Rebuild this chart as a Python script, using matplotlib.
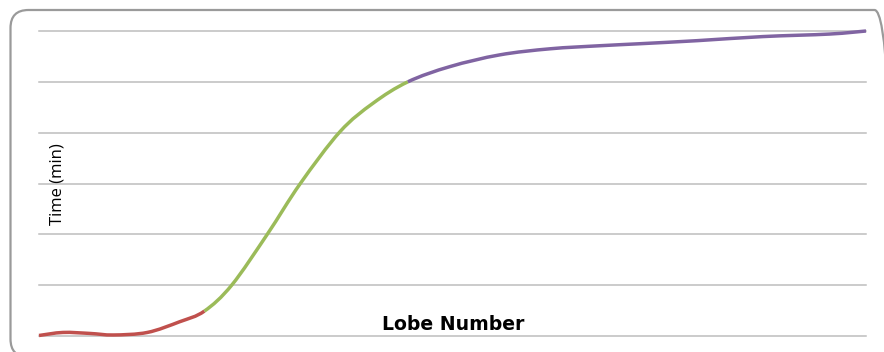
import matplotlib
matplotlib.use("Agg")
import matplotlib.pyplot as plt
import numpy as np
from matplotlib.path import Path
from matplotlib.patches import PathPatch, FancyBboxPatch

# Lobe number (relative position along the axis) and elapsed time, in three phases
red_x = [0.0, 2.9, 6.2, 9.0, 13.1, 17.0, 20.0]
red_y = [0.01, 0.07, 0.05, 0.02, 0.07, 0.28, 0.49]
green_x = [20.0, 23.3, 27.6, 31.6, 36.4, 40.4, 44.6]
green_y = [0.49, 1.00, 2.00, 3.00, 4.02, 4.58, 5.00]
purple_x = [44.6, 49.7, 55.7, 61.8, 67.8, 72.7, 79.6, 87.5, 95.6, 100.0]
purple_y = [5.00, 5.30, 5.53, 5.65, 5.71, 5.75, 5.81, 5.89, 5.94, 6.00]

series = [
    (red_x, red_y, "#c0504d"),
    (green_x, green_y, "#9bbb59"),
    (purple_x, purple_y, "#8064a2"),
]

W, H, DPI = 884, 352, 100
fig = plt.figure(figsize=(W / DPI, H / DPI), dpi=DPI)
fig.patch.set_facecolor("white")

# background layer in pixel units for the rounded chart-area frame
bg = fig.add_axes([0, 0, 1, 1], zorder=0)
bg.set_xlim(0, W)
bg.set_ylim(0, H)
bg.axis("off")
frame = FancyBboxPatch((10.5, -5.0), 882.0, 347.0,
                       boxstyle="round,pad=0,rounding_size=18",
                       facecolor="none", edgecolor="#9a9a9a", linewidth=1.6,
                       clip_on=False)
bg.add_patch(frame)

ax = fig.add_axes([39 / W, 16 / H, 827 / W, 305 / H], zorder=1)
ax.set_xlim(0, 100)
ax.set_ylim(0, 6)
ax.patch.set_alpha(0)
for s in ax.spines.values():
    s.set_visible(False)
ax.set_xticks([])
ax.set_yticks([])
for g in range(0, 7):
    ax.axhline(g, color="#bdbdbd", linewidth=1.1, zorder=1, clip_on=False)

# smooth curve through all points (cardinal Bezier, like a smoothed line chart)
all_x, all_y, seg_bounds = [], [], []
for xs, ys, col in series:
    start = len(all_x) - 1 if all_x else 0
    if all_x:
        xs, ys = xs[1:], ys[1:]
    all_x.extend(xs)
    all_y.extend(ys)
    seg_bounds.append((start, len(all_x) - 1, col))

P = np.column_stack([all_x, all_y])
n = len(P)


def ctrl(i):
    p0 = P[max(i - 1, 0)]
    p1 = P[i]
    p2 = P[i + 1]
    p3 = P[min(i + 2, n - 1)]
    c1 = p1 + (p2 - p0) / 6.0
    c2 = p2 - (p3 - p1) / 6.0
    return c1, c2


for a, b, col in seg_bounds:
    verts = [P[a]]
    codes = [Path.MOVETO]
    for i in range(a, b):
        c1, c2 = ctrl(i)
        verts += [c1, c2, P[i + 1]]
        codes += [Path.CURVE4] * 3
    patch = PathPatch(Path(verts, codes), facecolor="none", edgecolor=col,
                      linewidth=2.5, capstyle="butt", zorder=3, clip_on=False)
    ax.add_patch(patch)

fig.text(57 / W, 1 - 184 / H, "Time (min)", rotation=90, ha="center",
         va="center", fontsize=12, family="Open Sans", color="black",
         zorder=4)
fig.text(453 / W, 1 - 324 / H, "Lobe Number", ha="center", va="center",
         fontsize=13.6, family="DejaVu Sans", fontweight="bold", color="black",
         zorder=4)

fig.savefig("out.png", dpi=DPI, facecolor="white")
